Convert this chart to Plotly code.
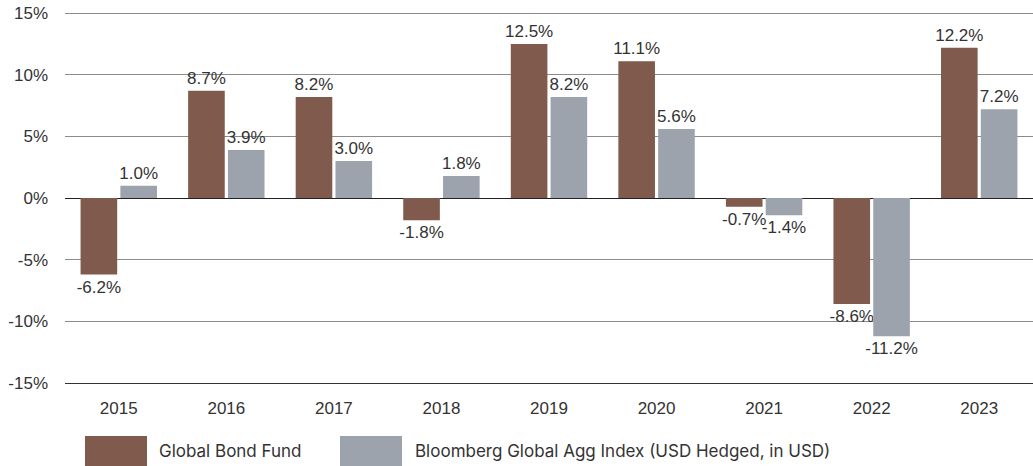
import plotly.graph_objects as go

years = ["2015", "2016", "2017", "2018", "2019", "2020", "2021", "2022", "2023"]
fund = [-6.2, 8.7, 8.2, -1.8, 12.5, 11.1, -0.7, -8.6, 12.2]
index = [1.0, 3.9, 3.0, 1.8, 8.2, 5.6, -1.4, -11.2, 7.2]
series_names = ["Global Bond Fund", "Bloomberg Global Agg Index (USD Hedged, in USD)"]
colors = ["#7F5A4D", "#9CA3AD"]
y_ticks = [-15, -10, -5, 0, 5, 10, 15]

W, H = 1033, 466
ML, MT, MB = 65, 7, 83
FONT = "Liberation Sans, Arial"

fig = go.Figure()
for name, vals, col in zip(series_names, [fund, index], colors):
    fig.add_trace(go.Bar(
        x=years, y=vals, name=name, marker=dict(color=col, line=dict(width=0)),
        text=[f"{v:.1f}%" for v in vals], textposition="outside",
        textfont=dict(family=FONT, size=17, color="#333333"),
        constraintext="none", cliponaxis=False, showlegend=False,
    ))

fig.update_layout(
    width=W, height=H,
    margin=dict(l=ML, r=0, t=MT, b=MB, autoexpand=False),
    paper_bgcolor="white", plot_bgcolor="white",
    barmode="group", bargap=0.26, bargroupgap=0.08,
    font=dict(family=FONT, size=17, color="#333333"),
)
fig.update_yaxes(
    range=[-15, 15.5], tickvals=y_ticks, ticktext=[f"{v}%" for v in y_ticks],
    showgrid=True, gridcolor="#8C8C8C", gridwidth=1.3,
    zeroline=True, zerolinecolor="#222222", zerolinewidth=1.3,
    automargin=False, ticklabelstandoff=16, tickfont=dict(size=17, color="#333333"),
)
fig.update_xaxes(
    showline=True, linecolor="#333333", linewidth=1.3, automargin=False,
    ticks="", ticklabelstandoff=9, tickfont=dict(size=17, color="#333333"),
)

# Legend drawn manually in paper space (window pixel positions)
legend_items = [(85, 147, 157), (340, 402, 413)]
pw, ph = W - ML, H - MT - MB
bottom_px = H - MB

def px_x(x):
    return (x - ML) / pw

def px_y(y):
    return (bottom_px - y) / ph

for (x0, x1, tx), name, col in zip(legend_items, series_names, colors):
    fig.add_shape(type="rect", xref="paper", yref="paper",
                  x0=px_x(x0), x1=px_x(x1), y0=px_y(466), y1=px_y(436),
                  fillcolor=col, line=dict(width=0))
    fig.add_annotation(xref="paper", yref="paper", x=px_x(tx), y=px_y(451),
                       text=name, showarrow=False, xanchor="left", yanchor="middle",
                       font=dict(family="Inter", size=17, color="#333333"))

fig.write_html("out.html", config={"displayModeBar": False},
               post_script="document.body.style.margin='0';document.body.style.overflow='hidden';")
